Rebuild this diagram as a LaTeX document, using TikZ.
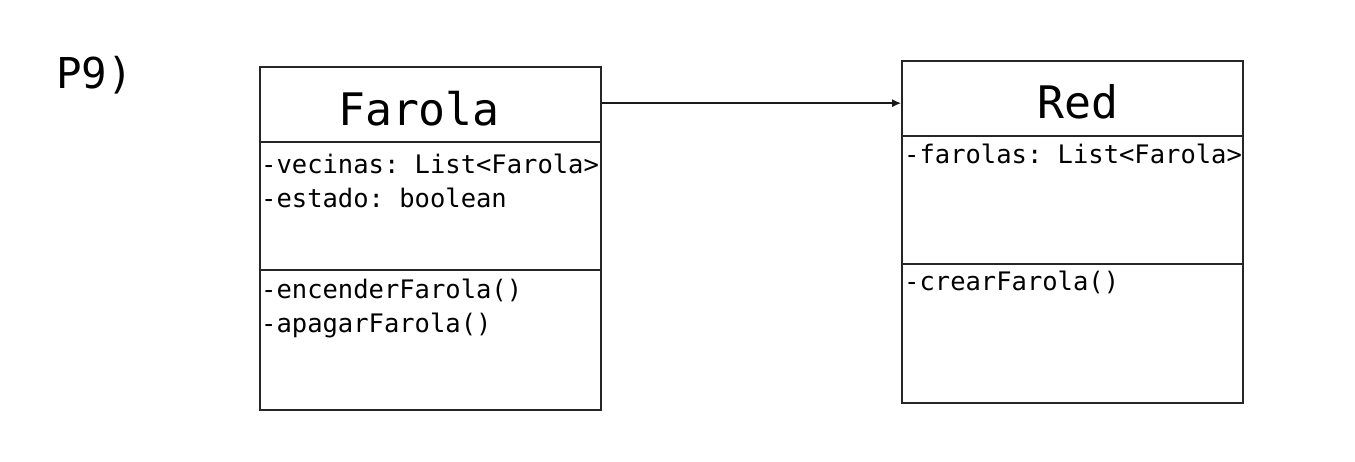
\documentclass[tikz,border=0pt]{standalone}
\usepackage{fontspec}
\setmonofont{DejaVu Sans Mono}
\usetikzlibrary{arrows.meta}
\begin{document}
\begin{tikzpicture}[x=1pt,y=-1pt,
  cls/.style={draw=black!85,line width=1.6pt,rectangle,inner sep=0pt,minimum width=341pt},
  sep/.style={draw=black!85,line width=1.6pt},
  ttl/.style={font=\ttfamily\fontsize{44.8}{50}\selectfont,inner sep=0pt,anchor=base},
  mem/.style={font=\ttfamily\fontsize{25.5}{30}\selectfont,inner sep=0pt,anchor=base west},
  lbl/.style={font=\ttfamily\fontsize{42.5}{48}\selectfont,inner sep=0pt,anchor=base west},
  assoc/.style={draw=black!90,line width=1.6pt,-{Latex[length=9pt,width=8pt]}}]
\useasboundingbox (0,0) rectangle (1355,462);
\node[lbl] (p9) at (56,89) {P9)};
% Farola
\node[cls,minimum height=343pt] (farola) at (430.5,238.5) {};
\draw[sep] (farola.west |- 0,142) -- (farola.east |- 0,142);
\draw[sep] (farola.west |- 0,270) -- (farola.east |- 0,270);
\node[ttl] (farolaT) at (419,126) {Farola};
\node[mem] (f1) at (261,174) {-vecinas: List<Farola>};
\node[mem] (f2) at (261,208) {-estado: boolean};
\node[mem] (f3) at (261,299) {-encenderFarola()};
\node[mem] (f4) at (261,333) {-apagarFarola()};
% Red
\node[cls,minimum height=342pt] (red) at (1072.5,232) {};
\draw[sep] (red.west |- 0,136) -- (red.east |- 0,136);
\draw[sep] (red.west |- 0,264) -- (red.east |- 0,264);
\node[ttl] (redT) at (1078,119) {Red};
\node[mem] (r1) at (904,164) {-farolas: List<Farola>};
\node[mem] (r2) at (904,291) {-crearFarola()};
% association
\draw[assoc] ([yshift=-37pt]farola.north east) -- ([yshift=-37pt]farola.north east -| red.west);
\end{tikzpicture}
\end{document}
